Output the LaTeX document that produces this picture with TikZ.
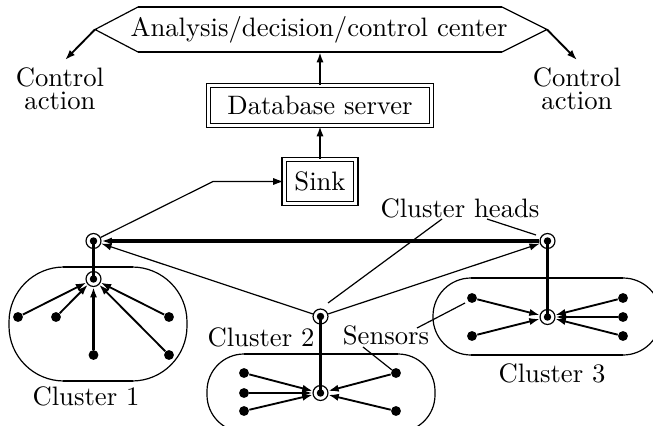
\documentclass[tikz,border=0pt]{standalone}
\usetikzlibrary{arrows.meta}
\begin{document}
\begin{tikzpicture}[x=0.375pt,y=-0.375pt,
  >={Latex[length=3.9pt,width=2.7pt]},
  thinline/.style={line width=0.45pt},
  medline/.style={line width=0.7pt},
  thickline/.style={line width=1pt},
  heavyline/.style={line width=1.2pt},
  hub/.style={circle,draw,line width=0.45pt,minimum size=5.6pt,inner sep=0pt,
    path picture={\fill (path picture bounding box.center) circle (1.4pt);}},
  sensor/.style={circle,fill,minimum size=3.7pt,inner sep=0pt},
  dbbox/.style={draw,double,line width=0.45pt,double distance=1.2pt,inner sep=0pt},
  twoline/.style={align=center,font={\fontsize{10}{8.7}\selectfont}},
  pill/.style={line width=0.45pt}]
\useasboundingbox (0,0) rectangle (653,425);
\clip (0,0) rectangle (653,425);

% control center hexagon
\node[minimum width=136.5pt,minimum height=16.9pt,inner sep=0pt] (cc) at (319,29.5) {Analysis/decision/control center};
\coordinate (ltip) at (95,29.5);
\coordinate (rtip) at (547,29.5);
\coordinate (tl) at (138,7);
\coordinate (tr) at (502,7);
\coordinate (bl) at (138,52);
\coordinate (br) at (502,52);
\coordinate (ccb) at (320,52);
\draw[thickline] (tl) -- (tr);
\draw[thickline] (bl) -- (br);
\draw[thinline] (tl) -- (ltip) -- (bl);
\draw[thinline] (tr) -- (rtip) -- (br);

% control actions
\coordinate (la) at (65,60);
\coordinate (ra) at (577,60);
\draw[->,medline] (ltip) -- (la);
\draw[->,medline] (rtip) -- (ra);
\node[twoline] (cal) at (60,89) {Control\\action};
\node[twoline] (car) at (577,89) {Control\\action};

% database and sink
\node[dbbox,minimum width=83.5pt,minimum height=14.9pt] (db) at (320,105.5) {Database server};
\node[dbbox,minimum width=26.9pt,minimum height=16.4pt] (sink) at (320,181.5) {Sink};
\draw[->,line width=0.85pt] (db.north) -- (ccb);
\draw[->,line width=0.85pt] (sink.north) -- (db.south);

% cluster outlines
\draw[pill,rounded corners=20.6pt] (9,267) rectangle (187,381);
\draw[thickline] (63,267) -- (133,267);
\draw[thickline] (63,381) -- (133,381);
\draw[pill,rounded corners=13.9pt] (207,354) rectangle (435,432);
\draw[thickline] (244,354) -- (398,354);
\draw[pill,rounded corners=14.25pt] (433,278) rectangle (661,355);
\draw[thickline] (471,278) -- (623,278);
\draw[thickline] (471,355) -- (623,355);

% cluster heads
\node[hub] (ch1) at (93.5,241) {};
\node[hub] (ch3) at (547.5,241) {};
\node[hub] (ch2) at (320.5,316.5) {};
\node[hub] (h1) at (93.5,279) {};
\node[hub] (h2) at (320.5,393) {};
\node[hub] (h3) at (547.5,317) {};

% sensors
\node[sensor] (s11) at (18,317) {};
\node[sensor] (s12) at (56,317) {};
\node[sensor] (s13) at (93.5,355) {};
\node[sensor] (s14) at (169,317) {};
\node[sensor] (s15) at (169,355) {};
\node[sensor] (s21) at (244,373) {};
\node[sensor] (s22) at (244,393) {};
\node[sensor] (s23) at (244,411) {};
\node[sensor] (s24) at (396,373) {};
\node[sensor] (s25) at (396,411) {};
\node[sensor] (s31) at (472,298) {};
\node[sensor] (s32) at (472,336) {};
\node[sensor] (s33) at (623,298) {};
\node[sensor] (s34) at (623,317) {};
\node[sensor] (s35) at (623,336) {};

% head links
\draw[thickline] (ch1.center) -- (h1.center);
\draw[thickline] (ch2.center) -- (h2.center);
\draw[thickline] (ch3.center) -- (h3.center);
\coordinate (bend) at (213,181.5);
\draw[->,thinline] (ch1) -- (bend) -- (sink.west);
\draw[->,heavyline] (ch3) -- (ch1);
\draw[->,thinline] (ch2) -- (ch1);
\draw[->,thinline] (ch2) -- (ch3);

% sensor links
\draw[->,medline] (s11) -- (h1);
\draw[->,medline] (s12) -- (h1);
\draw[->,thickline] (s13) -- (h1);
\draw[->,medline] (s14) -- (h1);
\draw[->,medline] (s15) -- (h1);
\draw[->,medline] (s21) -- (h2);
\draw[->,thickline] (s22) -- (h2);
\draw[->,medline] (s23) -- (h2);
\draw[->,medline] (s24) -- (h2);
\draw[->,medline] (s25) -- (h2);
\draw[->,medline] (s31) -- (h3);
\draw[->,medline] (s32) -- (h3);
\draw[->,medline] (s33) -- (h3);
\draw[->,thickline] (s34) -- (h3);
\draw[->,medline] (s35) -- (h3);

% labels
\node (lheads) at (460,208) {Cluster heads};
\coordinate (lh1a) at (442,219);
\coordinate (lh1b) at (328,303);
\coordinate (lh2a) at (487,219);
\coordinate (lh2b) at (536,235);
\draw[thinline] (lh1a) -- (lh1b);
\draw[thinline] (lh2a) -- (lh2b);
\node (lsens) at (386,335) {Sensors};
\coordinate (ls1a) at (417,328);
\coordinate (ls1b) at (465,303);
\coordinate (ls2a) at (363,347);
\coordinate (ls2b) at (392,370);
\draw[thinline] (ls1a) -- (ls1b);
\draw[thinline] (ls2a) -- (ls2b);
\node (lc1) at (86,396) {Cluster 1};
\node (lc2) at (261,337) {Cluster 2};
\node (lc3) at (552,373) {Cluster 3};
\end{tikzpicture}
\end{document}
